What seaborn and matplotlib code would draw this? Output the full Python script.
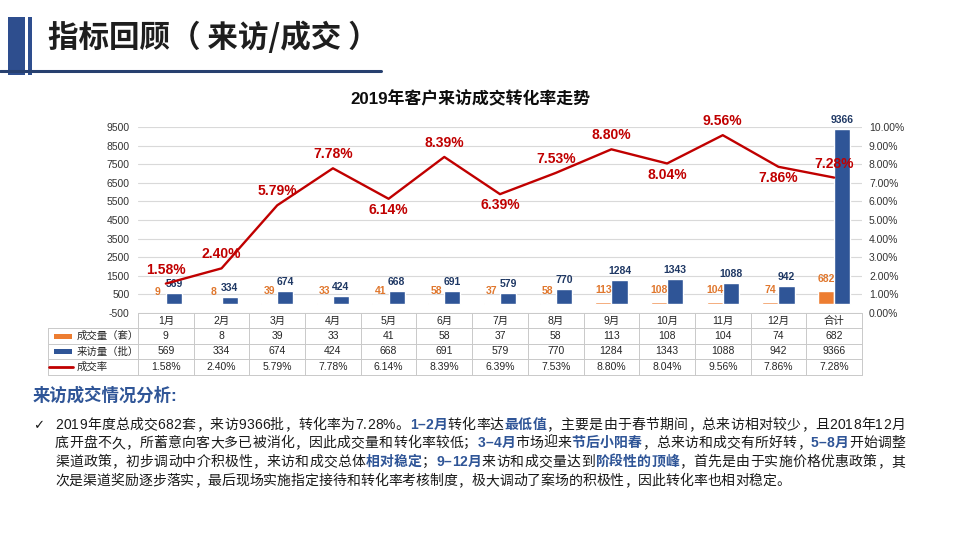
import numpy as np
import pandas as pd
import matplotlib.pyplot as plt
import matplotlib.patches as patches
from matplotlib.lines import Line2D
from matplotlib.ticker import FuncFormatter
import seaborn as sns

# Data
months = ["1月", "2月", "3月", "4月", "5月", "6月", "7月", "8月", "9月", "10月", "11月", "12月", "合计"]
deals = [9, 8, 39, 33, 41, 58, 37, 58, 113, 108, 104, 74, 682]
visits = [569, 334, 674, 424, 668, 691, 579, 770, 1284, 1343, 1088, 942, 9366]
rates = [1.58, 2.40, 5.79, 7.78, 6.14, 8.39, 6.39, 7.53, 8.80, 8.04, 9.56, 7.86, 7.28]  # percent
rate_label_up = [True, True, True, True, False, True, False, True, True, False, True, False, True]

row_names = ["成交量（套）", "来访量（批）", "成交率"]

text_lines = [
    [("2019年度总成交682套，来访9366批，转化率为7.28%。", False), ("1–2月", True), ("转化率达", False),
     ("最低值", True), ("，主要是由于春节期间，总来访相对较少，且2018年12月", False)],
    [("底开盘不久，所蓄意向客大多已被消化，因此成交量和转化率较低；", False), ("3–4月", True),
     ("市场迎来", False), ("节后小阳春", True), ("，总来访和成交有所好转，", False), ("5–8月", True),
     ("开始调整", False)],
    [("渠道政策，初步调动中介积极性，来访和成交总体", False), ("相对稳定", True), ("；", False),
     ("9–12月", True), ("来访和成交量达到", False), ("阶段性的顶峰", True),
     ("，首先是由于实施价格优惠政策，其", False)],
    [("次是渠道奖励逐步落实，最后现场实施指定接待和转化率考核制度，极大调动了案场的积极性，因此转化率也相对稳定。", False)],
]

sns.set_theme(style="white")
plt.rcParams["font.family"] = ["Liberation Sans", "Noto Sans CJK SC", "DejaVu Sans"]
plt.rcParams["axes.unicode_minus"] = False

ORANGE = "#ED7D31"
ORANGE_TXT = "#E0772D"
BLUE = "#2F5597"
NAVY = "#1F3864"
RED = "#C00000"
TXT = "#1A1A1A"

W, H = 960, 540
def fx(x):
    return x / W
def fy(y):
    return 1 - y / H

fig = plt.figure(figsize=(9.6, 5.4), dpi=100)

# header decoration
fig.add_artist(patches.Rectangle((fx(8), fy(75)), 17 / W, 58 / H, transform=fig.transFigure, color="#2E4E8E", lw=0))
fig.add_artist(patches.Rectangle((fx(28), fy(75)), 4 / W, 58 / H, transform=fig.transFigure, color="#2E4E8E", lw=0))
fig.add_artist(Line2D([0, fx(381)], [fy(71), fy(71)], transform=fig.transFigure, color="#27406F", lw=2.2))
fig.text(fx(48), fy(38), "指标回顾（ 来访/成交 ）", fontsize=22, fontweight="heavy", color="#1E1E1E",
         va="center", family=["Noto Sans CJK SC"])

# chart title
fig.text(fx(470), fy(99), "2019年客户来访成交转化率走势", fontsize=12.2, fontweight="bold",
         ha="center", va="center", color="#0D0D0D")

# plot area
left, right, top, bottom = 138, 862, 127, 313
ax = fig.add_axes([fx(left), fy(bottom), (right - left) / W, (bottom - top) / H])

bars = pd.DataFrame({"month": months, "成交量（套）": deals, "来访量（批）": visits})
bars_long = bars.melt(id_vars="month", var_name="series", value_name="value")
sns.barplot(data=bars_long, x="month", y="value", hue="series", palette=[ORANGE, BLUE],
            width=0.58, saturation=1, legend=False, ax=ax)

ax.set_ylim(-500, 9500)
ax.set_yticks(range(-500, 9501, 1000))
ax.set_xlim(-0.5, len(months) - 0.5)
ax.set_xticks([])
ax.set_xlabel("")
ax.set_ylabel("")
ax.yaxis.grid(True, color="#D9D9D9", lw=0.8)
ax.set_axisbelow(True)
ax.tick_params(axis="y", length=0, pad=6, labelsize=7.5, labelcolor="#333333")
for s in ax.spines.values():
    s.set_visible(False)

for cont, col, pad in zip(ax.containers, [ORANGE_TXT, NAVY], [5, 3]):
    ax.bar_label(cont, color=col, fontsize=7.5, fontweight="bold", padding=pad)

# conversion rate line on the right axis
ax2 = ax.twinx()
rate_frac = [r / 100 for r in rates]
sns.lineplot(x=months, y=rate_frac, ax=ax2, color=RED, linewidth=1.7, sort=False)
ax2.set_ylim(0, 0.10)
ax2.set_yticks(np.linspace(0, 0.10, 11))
ax2.yaxis.set_major_formatter(FuncFormatter(lambda v, p: f"{v * 100:.2f}%"))
ax2.tick_params(axis="y", length=0, pad=5, labelsize=7.5, labelcolor="#333333")
ax2.set_ylabel("")
ax2.set_xlabel("")
ax2.grid(False)
for s in ax2.spines.values():
    s.set_visible(False)
ax.set_xlim(-0.5, len(months) - 0.5)

for m, r, up in zip(months, rates, rate_label_up):
    ax2.annotate(f"{r:.2f}%", xy=(m, r / 100), xytext=(0, 10 if up else -8), textcoords="offset points",
                 ha="center", va="center", color=RED, fontsize=10, fontweight="bold")

# data table under the chart
col_w = (right - left) / len(months)
rows_y = [313, 328, 344, 359, 375]
gc = "#C9C9C9"
def hline(x0, x1, y):
    fig.add_artist(Line2D([fx(x0), fx(x1)], [fy(y), fy(y)], transform=fig.transFigure, color=gc, lw=0.7))
def vline(x, y0, y1):
    fig.add_artist(Line2D([fx(x), fx(x)], [fy(y0), fy(y1)], transform=fig.transFigure, color=gc, lw=0.7))

hline(left, right, rows_y[0])
for y in rows_y[1:]:
    hline(48, right, y)
for k in range(len(months) + 1):
    vline(left + k * col_w, rows_y[0], rows_y[-1])
vline(48, rows_y[1], rows_y[-1])

table_rows = [months, [str(v) for v in deals], [str(v) for v in visits], [f"{r:.2f}%" for r in rates]]
for i, row in enumerate(table_rows):
    yc = (rows_y[i] + rows_y[i + 1]) / 2
    for k, val in enumerate(row):
        fig.text(fx(left + (k + 0.5) * col_w), fy(yc), val, fontsize=7.5, color="#262626",
                 ha="center", va="center")

# legend keys in the first column
for i, name in enumerate(row_names):
    yc = (rows_y[i + 1] + rows_y[i + 2]) / 2
    if i < 2:
        fig.add_artist(patches.Rectangle((fx(54), fy(yc + 2.5)), 18 / W, 5 / H, transform=fig.transFigure,
                                         color=[ORANGE, BLUE][i], lw=0))
    else:
        fig.add_artist(Line2D([fx(49), fx(73)], [fy(yc), fy(yc)], transform=fig.transFigure, color=RED, lw=2))
    fig.text(fx(77), fy(yc), name, fontsize=7.5, color="#262626", va="center")

# analysis text
fig.text(fx(33), fy(395), "来访成交情况分析:", fontsize=12.5, fontweight="bold", color=BLUE, va="center")
fig.text(fx(33), fy(429), "✓", fontsize=9.5, color=TXT, family=["DejaVu Sans"], va="baseline")

# paragraph, drawn char by char so that lines 1-3 can be justified
renderer = fig.canvas.get_renderer()
line_y = [429, 447, 466, 485]
text_x0, text_x1 = 55, 905
for n, (segs, yb) in enumerate(zip(text_lines, line_y)):
    items = []
    for txt, hl in segs:
        for ch in txt:
            t = fig.text(0, fy(yb), ch, fontsize=10, va="baseline",
                         color=BLUE if hl else TXT, fontweight="bold" if hl else "normal")
            items.append((t, t.get_window_extent(renderer).width))
    natural = sum(w for _, w in items)
    gap = 0
    if n < len(text_lines) - 1:
        gap = max(0, (text_x1 - text_x0 - natural) / (len(items) - 1))
    x = text_x0
    for t, w in items:
        t.set_x(fx(x))
        x += w + gap

fig.savefig("out.png", dpi=100)
